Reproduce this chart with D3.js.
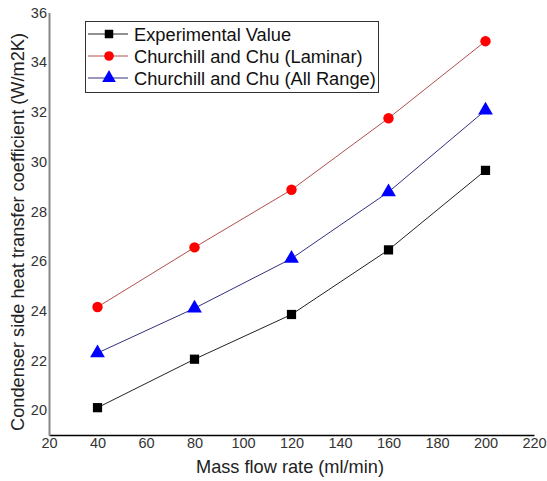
<!DOCTYPE html>
<html>
<head>
<meta charset="utf-8">
<script src="https://cdn.jsdelivr.net/npm/d3@7"></script>
<style>
  body { margin: 0; background: #fff; }
  text { font-family: "Liberation Sans", Arial, sans-serif; }
</style>
</head>
<body>
<svg id="chart" width="547" height="481"></svg>
<script>
// datos
const flow = [40, 80, 120, 160, 200];
const experimental = [20.1, 22.05, 23.85, 26.45, 29.65];
const laminar = [24.15, 26.55, 28.87, 31.75, 34.85];
const allRange = [22.3, 24.1, 26.1, 28.78, 32.07];
const seriesNames = ["Experimental Value", "Churchill and Chu (Laminar)", "Churchill and Chu (All Range)"];
const xTicks = [20, 40, 60, 80, 100, 120, 140, 160, 180, 200, 220];
const yTicks = [20, 22, 24, 26, 28, 30, 32, 34, 36];

const svg = d3.select("#chart");

// escalas
const x = d3.scaleLinear().domain([20, 220]).range([49, 534]);
const y = d3.scaleLinear().domain([19, 36]).range([435, 12.6]);

const series = [
  { name: seriesNames[0], vals: experimental, line: "#222", fill: "#000", shape: d3.symbolSquare, size: 85 },
  { name: seriesNames[1], vals: laminar, line: "#b05050", fill: "#ff0000", shape: d3.symbolCircle, size: 85 },
  { name: seriesNames[2], vals: allRange, line: "#303080", fill: "#0000ff", shape: d3.symbolTriangle, size: 95 }
];

// ejes
const xAxis = d3.axisBottom(x).tickValues(xTicks).tickSize(0).tickPadding(3);
const yAxis = d3.axisLeft(y).tickValues(yTicks).tickSize(0).tickPadding(2);

const gx = svg.append("g").attr("transform", `translate(0,${y(19)})`).call(xAxis);
gx.select(".domain").attr("stroke", "#000").attr("stroke-width", 1.5);
gx.selectAll("text").attr("font-size", 14.5).attr("fill", "#333")
  .attr("font-family", "Liberation Sans, Arial, sans-serif");

const gy = svg.append("g").attr("transform", `translate(${x(20)},0)`).call(yAxis);
gy.select(".domain").attr("stroke", "#888").attr("stroke-width", 2);
gy.selectAll("text").attr("font-size", 14.5).attr("fill", "#333")
  .attr("font-family", "Liberation Sans, Arial, sans-serif");

// títulos
svg.append("text")
  .attr("x", 290).attr("y", 473)
  .attr("text-anchor", "middle").attr("font-size", 18.2).attr("fill", "#222")
  .text("Mass flow rate (ml/min)");

svg.append("text")
  .attr("transform", "translate(24,232) rotate(-90)")
  .attr("text-anchor", "middle").attr("font-size", 18.2).attr("fill", "#222")
  .text("Condenser side heat transfer coefficient (W/m2K)");

// líneas y marcadores
const line = d3.line().x((d, i) => x(flow[i])).y(d => y(d));

series.forEach(s => {
  svg.append("path")
    .attr("d", line(s.vals))
    .attr("fill", "none")
    .attr("stroke", s.line)
    .attr("stroke-width", 1);
  svg.selectAll(null).data(s.vals).enter().append("path")
    .attr("d", d3.symbol().type(s.shape).size(s.size))
    .attr("transform", (d, i) => `translate(${x(flow[i])},${y(d)})`)
    .attr("fill", s.fill);
});

// leyenda
const leg = svg.append("g");
leg.append("rect")
  .attr("x", 85.5).attr("y", 21.5).attr("width", 293).attr("height", 71)
  .attr("fill", "#fff").attr("stroke", "#333").attr("stroke-width", 1);

series.forEach((s, i) => {
  const ly = 34 + i * 22;
  leg.append("line")
    .attr("x1", 88).attr("x2", 128).attr("y1", ly).attr("y2", ly)
    .attr("stroke", s.line).attr("stroke-width", 1);
  leg.append("path")
    .attr("d", d3.symbol().type(s.shape).size(s.size * 0.85))
    .attr("transform", `translate(109,${ly})`)
    .attr("fill", s.fill);
  leg.append("text")
    .attr("x", 134).attr("y", ly + 6.5)
    .attr("font-size", 18.3).attr("fill", "#111")
    .text(s.name);
});
</script>
</body>
</html>
